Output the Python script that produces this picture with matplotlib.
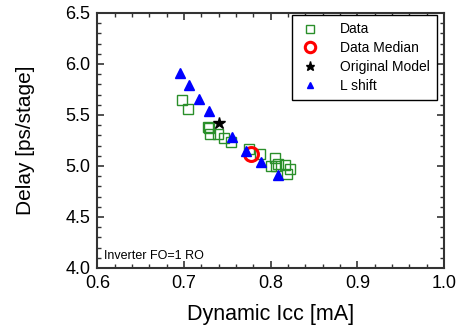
import matplotlib
matplotlib.use("Agg")
import matplotlib.pyplot as plt
from matplotlib.ticker import MultipleLocator

plt.rcParams['font.family'] = ['Liberation Sans', 'DejaVu Sans']

# measured data
data_x = [0.6976, 0.7045, 0.7276, 0.7291, 0.7296, 0.7388, 0.7464, 0.7545, 0.7749,
          0.7872, 0.8045, 0.7999, 0.8060, 0.8086, 0.8164, 0.8221, 0.8190]
data_y = [5.644, 5.562, 5.385, 5.370, 5.317, 5.314, 5.272, 5.238, 5.164,
          5.118, 5.075, 5.003, 5.000, 5.020, 5.013, 4.971, 4.925]

median_x = [0.7771]
median_y = [5.118]

model_x = [0.7405]
model_y = [5.419]

lshift_x = [0.6957, 0.7057, 0.7169, 0.7288, 0.7556, 0.7714, 0.7887, 0.8080]
lshift_y = [5.909, 5.791, 5.660, 5.539, 5.287, 5.150, 5.039, 4.909]

fig = plt.figure(figsize=(4.58, 3.32), dpi=100)
ax = fig.add_axes([0.2125, 0.193, 0.757, 0.768])

green = '#2a8f2a'
ax.plot(data_x, data_y, 's', mfc='none', mec=green, ms=7, mew=1.0, label='Data')
ax.plot(median_x, median_y, 'o', mfc='none', mec='red', ms=10, mew=2.2, label='Data Median')
ax.plot(model_x, model_y, '*', color='black', ms=9, label='Original Model')
ax.plot(lshift_x, lshift_y, '^', color='blue', ms=6.5, label='L shift')

ax.set_xlim(0.6, 1.0)
ax.set_ylim(4.0, 6.5)
ax.xaxis.set_major_locator(MultipleLocator(0.1))
ax.xaxis.set_minor_locator(MultipleLocator(0.02))
ax.yaxis.set_major_locator(MultipleLocator(0.5))
ax.yaxis.set_minor_locator(MultipleLocator(0.1))
ax.xaxis.set_major_formatter(plt.FormatStrFormatter('%.1f'))
ax.yaxis.set_major_formatter(plt.FormatStrFormatter('%.1f'))

ax.tick_params(which='both', direction='in', top=True, right=True, color='#333333')
ax.tick_params(which='major', length=5, width=1.2, labelsize=13, pad=5)
ax.tick_params(which='minor', length=3, width=1.0)
for s in ax.spines.values():
    s.set_linewidth(1.5)
    s.set_color('#333333')

ax.set_xlabel('Dynamic Icc [mA]', fontsize=15.5, labelpad=9)
ax.set_ylabel('Delay [ps/stage]', fontsize=15, labelpad=22)

ax.text(0.02, 0.035, 'Inverter FO=1 RO', transform=ax.transAxes, fontsize=9)

leg = ax.legend(loc='upper right', bbox_to_anchor=(0.98, 0.99), fontsize=10,
                fancybox=False, edgecolor='black', framealpha=1,
                handletextpad=1.4, borderpad=0.5, labelspacing=0.35,
                handlelength=1.6, borderaxespad=0, markerscale=0.75)
leg.get_frame().set_linewidth(1.0)

fig.savefig('out.png', dpi=100)
